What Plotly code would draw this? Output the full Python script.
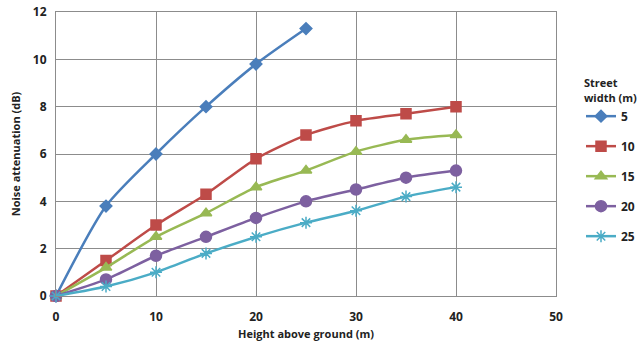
import plotly.graph_objects as go

# Height above ground (m)
heights = [0, 5, 10, 15, 20, 25, 30, 35, 40]

# Noise attenuation (dB) per street width
att_w5 = [0, 3.8, 6.0, 8.0, 9.8, 11.3]
att_w10 = [0, 1.5, 3.0, 4.3, 5.8, 6.8, 7.4, 7.7, 8.0]
att_w15 = [0, 1.2, 2.5, 3.5, 4.6, 5.3, 6.1, 6.6, 6.8]
att_w20 = [0, 0.7, 1.7, 2.5, 3.3, 4.0, 4.5, 5.0, 5.3]
att_w25 = [0, 0.4, 1.0, 1.8, 2.5, 3.1, 3.6, 4.2, 4.6]

widths = ["5", "10", "15", "20", "25"]
series = [att_w5, att_w10, att_w15, att_w20, att_w25]

colors = ["#4A7EBB", "#BE4B48", "#98B954", "#7D60A0", "#4BACC6"]
symbols = ["diamond", "square", "triangle-up", "circle", "asterisk-open"]
sizes = [9, 10, 10, 11, 10]

FONT = "Open Sans"

fig = go.Figure()
for name, vals, c, s, sz in zip(widths, series, colors, symbols, sizes):
    fig.add_trace(go.Scatter(
        x=heights[:len(vals)], y=vals, name=name, legendgroup=name,
        mode="lines+markers",
        line=dict(color=c, width=2.5, shape="spline", smoothing=0.7),
        marker=dict(symbol=s, size=sz, color=c,
                    line=dict(color=c, width=1.5)),
        cliponaxis=False,
    ))

axis_common = dict(
    showgrid=True, gridcolor="#8C8C8C", gridwidth=1,
    showline=True, linecolor="#8C8C8C", linewidth=1, mirror=True,
    zeroline=False, ticks="",
    tickfont=dict(family=FONT, size=12, color="#222222", weight="bold"),
)

fig.update_layout(
    width=640, height=349,
    margin=dict(l=56, r=0, t=12, b=53, autoexpand=False),
    paper_bgcolor="white", plot_bgcolor="white",
    font=dict(family=FONT, color="#222222"),
    xaxis=dict(range=[0, 50], dtick=10, domain=[0, 500 / 584],
               ticklabelstandoff=10, automargin=False,
               title=dict(text="Height above ground (m)", standoff=5,
                          font=dict(family=FONT, size=11, weight="bold")),
               **axis_common),
    yaxis=dict(range=[0, 12], dtick=2, ticklabelstandoff=6, automargin=False,
               title=dict(text="Noise attenuation (dB)", standoff=10,
                          font=dict(family=FONT, size=11, weight="bold")),
               **axis_common),
    legend=dict(
        x=1.0, xanchor="right", y=0.785, yanchor="top",
        title=dict(text="Street<br>width (m)", side="top center",
                   font=dict(family=FONT, size=11, weight="bold")),
        font=dict(family=FONT, size=12, weight="bold"),
        traceorder="grouped", tracegroupgap=11, itemwidth=30,
        bgcolor="rgba(0,0,0,0)",
    ),
)

fig.write_html("out.html")
